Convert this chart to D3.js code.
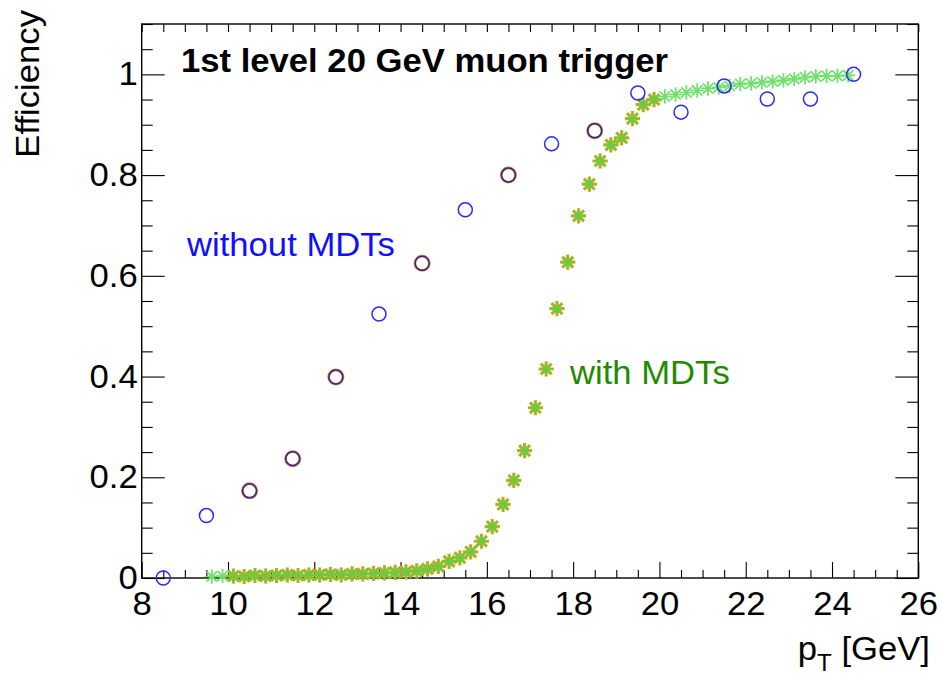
<!DOCTYPE html>
<html>
<head>
<meta charset="utf-8">
<script src="https://cdn.jsdelivr.net/npm/d3@7"></script>
<style>
  html, body { margin: 0; padding: 0; background: #fff; }
  svg { display: block; }
  text { font-family: "Liberation Sans", Arial, Helvetica, sans-serif; }
</style>
</head>
<body>
<div id="chart"></div>
<script>
// ---------- data ----------
const xDomain = [8, 26];
const yDomain = [0, 1.1];
const xMajorTicks = [8, 10, 12, 14, 16, 18, 20, 22, 24, 26];
const yMajorTicks = [0, 0.2, 0.4, 0.6, 0.8, 1.0];
const yTickLabels = ["0", "0.2", "0.4", "0.6", "0.8", "1"];

// "without MDTs" (open circles, 1 GeV bins)
const ptCoarse = [8.5, 9.5, 10.5, 11.5, 12.5, 13.5, 14.5, 15.5, 16.5, 17.5, 18.5, 19.5, 20.5, 21.5, 22.5, 23.5, 24.5];
const effWithout = [0.0, 0.124, 0.173, 0.237, 0.399, 0.524, 0.625, 0.731, 0.800, 0.862, 0.888, 0.963, 0.925, 0.977, 0.951, 0.951, 1.0];
// second (orange) circle series drawn underneath at some points
const ptCoarseOrange = [10.5, 11.5, 12.5, 14.5, 16.5, 18.5];
const effWithoutOrange = [0.173, 0.237, 0.399, 0.625, 0.800, 0.888];

// "with MDTs" (stars, 0.25 GeV bins) - green series
const ptFine = [9.625, 9.875, 10.125, 10.375, 10.625, 10.875, 11.125, 11.375, 11.625, 11.875,
  12.125, 12.375, 12.625, 12.875, 13.125, 13.375, 13.625, 13.875, 14.125, 14.375,
  14.625, 14.875, 15.125, 15.375, 15.625, 15.875, 16.125, 16.375, 16.625, 16.875,
  17.125, 17.375, 17.625, 17.875, 18.125, 18.375, 18.625, 18.875, 19.125, 19.375,
  19.625, 19.875, 20.125, 20.375, 20.625, 20.875, 21.125, 21.375, 21.625, 21.875,
  22.125, 22.375, 22.625, 22.875, 23.125, 23.375, 23.625, 23.875, 24.125, 24.375];
const effWith = [0.003, 0.004, 0.004, 0.003, 0.005, 0.004, 0.005, 0.006, 0.005, 0.006,
  0.006, 0.007, 0.006, 0.008, 0.008, 0.009, 0.010, 0.011, 0.012, 0.014,
  0.018, 0.023, 0.033, 0.040, 0.052, 0.073, 0.102, 0.146, 0.194, 0.253,
  0.338, 0.415, 0.535, 0.627, 0.719, 0.782, 0.828, 0.860, 0.874, 0.912,
  0.940, 0.950, 0.956, 0.960, 0.964, 0.968, 0.972, 0.974, 0.977, 0.981,
  0.982, 0.984, 0.986, 0.988, 0.991, 0.994, 0.996, 0.997, 0.997, 0.998];
// orange star series underneath
const ptFineOrange = [10.125, 10.375, 10.625, 10.875, 11.125, 11.375, 11.625, 11.875,
  12.125, 12.375, 12.625, 12.875, 13.125, 13.375, 13.625, 13.875, 14.125, 14.375,
  14.625, 14.875, 15.125, 15.375, 15.625, 15.875, 16.125, 16.375, 16.625, 16.875,
  17.125, 17.375, 17.625, 17.875, 18.125, 18.375, 18.625, 18.875, 19.125, 19.375,
  19.625, 19.875];
const effWithOrange = [0.004, 0.003, 0.005, 0.004, 0.005, 0.006, 0.005, 0.006,
  0.006, 0.007, 0.006, 0.008, 0.008, 0.009, 0.010, 0.011, 0.012, 0.014,
  0.018, 0.023, 0.033, 0.040, 0.052, 0.073, 0.102, 0.146, 0.194, 0.253,
  0.338, 0.415, 0.535, 0.627, 0.719, 0.782, 0.828, 0.860, 0.874, 0.912,
  0.940, 0.950];

const titleText = "1st level 20 GeV muon trigger";
const labelWithout = "without MDTs";
const labelWith = "with MDTs";

// ---------- drawing ----------
const W = 942, H = 676;
const L = 141.7, R = 918.3, T = 24, B = 578;
const FS = 33;
const SX = 1.05; // horizontal stretch of text to match reference glyph widths

const svg = d3.select("#chart").append("svg").attr("width", W).attr("height", H);

const x = d3.scaleLinear().domain(xDomain).range([L, R]);
const y = d3.scaleLinear().domain(yDomain).range([B, T]);

const xMinor = d3.range(16, 53).map(d => d / 2).filter(v => xMajorTicks.indexOf(v) < 0);
const yMinor = d3.range(0, 23).map(d => d * 0.05).filter(v => !yMajorTicks.some(m => Math.abs(m - v) < 1e-6));

function styleAxis(g) {
  g.select(".domain").remove();
  g.selectAll(".tick line").attr("stroke", "#000").attr("stroke-width", 1.1);
  g.selectAll(".tick text").attr("fill", "#000").style("font-size", FS + "px")
    .style("font-family", '"Liberation Sans", Arial, sans-serif');
}

// bottom major
const gxb = svg.append("g").attr("transform", `translate(0,${B})`)
  .call(d3.axisBottom(x).tickValues(xMajorTicks).tickFormat(d3.format("d")).tickSizeInner(-16).tickSizeOuter(0).tickPadding(14))
  .call(styleAxis);
gxb.selectAll(".tick text").attr("transform", `scale(${SX},1)`);
// bottom minor
svg.append("g").attr("transform", `translate(0,${B})`)
  .call(d3.axisBottom(x).tickValues(xMinor).tickFormat("").tickSizeInner(-8).tickSizeOuter(0))
  .call(styleAxis);
// top ticks
svg.append("g").attr("transform", `translate(0,${T})`)
  .call(d3.axisTop(x).tickValues(xMinor.concat(xMajorTicks)).tickFormat("").tickSizeInner(-8).tickSizeOuter(0))
  .call(styleAxis);

// left major
const gyl = svg.append("g").attr("transform", `translate(${L},0)`)
  .call(d3.axisLeft(y).tickValues(yMajorTicks).tickFormat((d, i) => yTickLabels[i]).tickSizeInner(-23).tickSizeOuter(0).tickPadding(4))
  .call(styleAxis);
gyl.selectAll(".tick text").attr("x", null)
  .attr("transform", `translate(-4,0) scale(${SX},1)`);
// left minor
svg.append("g").attr("transform", `translate(${L},0)`)
  .call(d3.axisLeft(y).tickValues(yMinor).tickFormat("").tickSizeInner(-11).tickSizeOuter(0))
  .call(styleAxis);
// right major/minor
svg.append("g").attr("transform", `translate(${R},0)`)
  .call(d3.axisRight(y).tickValues(yMajorTicks).tickFormat("").tickSizeInner(-23).tickSizeOuter(0))
  .call(styleAxis);
svg.append("g").attr("transform", `translate(${R},0)`)
  .call(d3.axisRight(y).tickValues(yMinor).tickFormat("").tickSizeInner(-11).tickSizeOuter(0))
  .call(styleAxis);

// frame
svg.append("rect").attr("x", L).attr("y", T).attr("width", R - L).attr("height", B - T)
  .attr("fill", "none").attr("stroke", "#000").attr("stroke-width", 1.4);

// star marker path
function starPath(r) {
  const d = r * 0.72;
  return `M${-r},0L${r},0M0,${-r}L0,${r}M${-d},${-d}L${d},${d}M${-d},${d}L${d},${-d}`;
}

const plot = svg.append("g");

// orange stars (underneath)
plot.selectAll("path.ostar").data(ptFineOrange.map((p, i) => [p, effWithOrange[i]]))
  .enter().append("path").attr("class", "ostar")
  .attr("transform", d => `translate(${x(d[0])},${y(d[1])})`)
  .attr("d", starPath(7.6)).attr("stroke", "#e5a21a").attr("stroke-width", 3.2).attr("fill", "none");

// green stars
plot.selectAll("path.gstar").data(ptFine.map((p, i) => [p, effWith[i]]))
  .enter().append("path").attr("class", "gstar")
  .attr("transform", d => `translate(${x(d[0])},${y(d[1])})`)
  .attr("d", starPath(7.2))
  .attr("stroke", d => (d[0] < 10 || d[0] > 19.9) ? "#6fe06a" : "#5fcf45")
  .attr("stroke-width", 1.7).attr("fill", "none");

// orange circles (underneath)
plot.selectAll("circle.ocirc").data(ptCoarseOrange.map((p, i) => [p, effWithoutOrange[i]]))
  .enter().append("circle").attr("class", "ocirc")
  .attr("cx", d => x(d[0])).attr("cy", d => y(d[1])).attr("r", 7.2)
  .attr("fill", "none").attr("stroke", "#d08a2a").attr("stroke-width", 2.6);

// blue circles
plot.selectAll("circle.bcirc").data(ptCoarse.map((p, i) => [p, effWithout[i]]))
  .enter().append("circle").attr("class", "bcirc")
  .attr("cx", d => x(d[0])).attr("cy", d => y(d[1])).attr("r", 7)
  .attr("fill", "none")
  .attr("stroke", d => ptCoarseOrange.indexOf(d[0]) >= 0 ? "#3a22a0" : "#2a2aff")
  .attr("stroke-width", 1.5);

// texts
function stretchedText(tx, ty, extra) {
  return svg.append("text").attr("transform", `translate(${tx},${ty})${extra || ""} scale(${SX},1)`)
    .style("font-size", FS + "px");
}

stretchedText(181, 72).attr("font-weight", "bold").attr("fill", "#000").text(titleText);
stretchedText(187, 256).attr("fill", "#1010ff").text(labelWithout);
stretchedText(570, 384).attr("fill", "#1f8c00").text(labelWith);

// y title
stretchedText(39, 10, " rotate(-90)").attr("text-anchor", "end").attr("fill", "#000").text("Efficiency");

// x title
const xt = stretchedText(930, 660).attr("text-anchor", "end").attr("fill", "#000");
xt.append("tspan").text("p");
xt.append("tspan").attr("dy", 11).style("font-size", "23px").text("T");
xt.append("tspan").attr("dy", -11).text(" [GeV]");
</script>
</body>
</html>
